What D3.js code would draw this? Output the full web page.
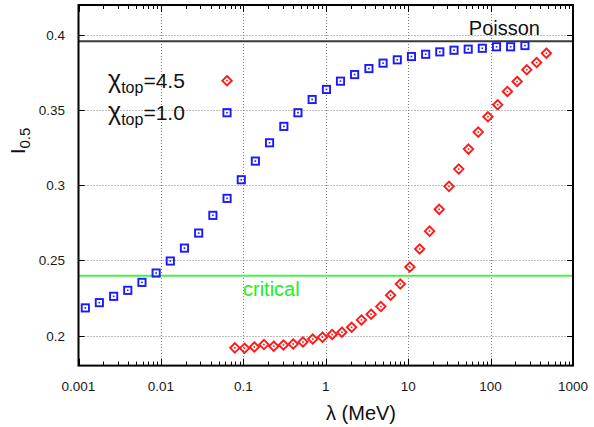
<!DOCTYPE html>
<html>
<head>
<meta charset="utf-8">
<script src="https://cdn.jsdelivr.net/npm/d3@7"></script>
<style>
  body { margin: 0; background: #fff; }
  svg { font-family: "Liberation Sans", Arial, sans-serif; }
</style>
</head>
<body>
<div id="chart"></div>
<script>
var svgWidth = 594, svgHeight = 427;

// chi_top = 1.0 (blue squares)
var lambdaBlue = [0.00121, 0.00179, 0.00267, 0.00396, 0.00589, 0.00875, 0.0130, 0.0193, 0.0287, 0.0427,
                  0.0635, 0.0944, 0.140, 0.208, 0.310, 0.460, 0.684, 1.02, 1.51, 2.24,
                  3.34, 4.96, 7.38, 10.96, 16.3, 24.2, 36.0, 53.5, 79.4, 118, 175, 261];
var iBlue = [0.2184, 0.2219, 0.2261, 0.2301, 0.2354, 0.2416, 0.2496, 0.2582, 0.2682, 0.2800,
             0.2913, 0.3037, 0.3161, 0.3283, 0.3392, 0.3483, 0.3571, 0.3638, 0.3693, 0.3737,
             0.3777, 0.3813, 0.3835, 0.3857, 0.3872, 0.3888, 0.3899, 0.3906, 0.3912, 0.3922, 0.3922, 0.3930];

// chi_top = 4.5 (red diamonds)
var lambdaRed = [0.0789, 0.1035, 0.136, 0.178, 0.234, 0.307, 0.403, 0.529, 0.695, 0.912,
                 1.197, 1.571, 2.06, 2.71, 3.55, 4.66, 6.12, 8.03, 10.5, 13.8,
                 18.2, 23.8, 31.3, 41.1, 53.9, 70.8, 92.9, 122, 160, 210, 275, 362, 475];
var iRed = [0.1918, 0.1916, 0.1924, 0.1940, 0.1929, 0.1937, 0.1944, 0.1957, 0.1977, 0.1989,
            0.2007, 0.2022, 0.2055, 0.2104, 0.2142, 0.2193, 0.2268, 0.2343, 0.2456, 0.2576,
            0.2695, 0.2840, 0.2993, 0.3108, 0.3241, 0.3354, 0.3456, 0.3536, 0.3624, 0.3691,
            0.3769, 0.3817, 0.3879];

var xTicks = [0.001, 0.01, 0.1, 1, 10, 100, 1000];
var xTickLabels = ["0.001", "0.01", "0.1", "1", "10", "100", "1000"];
var yTicks = [0.2, 0.25, 0.3, 0.35, 0.4];
var yTickLabels = ["0.2", "0.25", "0.3", "0.35", "0.4"];

var poissonLevel = 0.3958;
var criticalLevel = 0.2398;

var legendLabels = ["4.5", "1.0"];

var pLeft = 78.5, pRight = 573, pTop = 5, pBottom = 365.6;

var x = d3.scaleLog().domain([0.001, 1000]).range([pLeft, pRight]);
var y = d3.scaleLinear().domain([0.18, 0.42]).range([pBottom, pTop]);

var svg = d3.select("#chart").append("svg")
  .attr("width", svgWidth)
  .attr("height", svgHeight);

function px(v) { return Math.round(v) + 0.5; }

// grid (dotted)
var grid = svg.append("g").attr("stroke", "#7a7a7a").attr("stroke-width", 1).attr("stroke-dasharray", "1,2");
grid.selectAll("line.gx").data(xTicks.slice(1, -1)).enter().append("line")
  .attr("x1", d => px(x(d))).attr("x2", d => px(x(d)))
  .attr("y1", pTop).attr("y2", pBottom);
grid.selectAll("line.gy").data(yTicks).enter().append("line")
  .attr("x1", pLeft).attr("x2", pRight)
  .attr("y1", d => px(y(d))).attr("y2", d => px(y(d)));

// minor ticks on log axis (top and bottom)
var minor = [];
for (var e = -3; e < 3; e++) {
  for (var m = 2; m <= 9; m++) minor.push(m * Math.pow(10, e));
}
var ticks = svg.append("g").attr("stroke", "#000").attr("stroke-width", 1);
ticks.selectAll("line.mb").data(minor).enter().append("line")
  .attr("x1", d => px(x(d))).attr("x2", d => px(x(d)))
  .attr("y1", pBottom).attr("y2", pBottom - 4);
ticks.selectAll("line.mt").data(minor).enter().append("line")
  .attr("x1", d => px(x(d))).attr("x2", d => px(x(d)))
  .attr("y1", pTop).attr("y2", pTop + 4);
ticks.selectAll("line.Mb").data(xTicks).enter().append("line")
  .attr("x1", d => px(x(d))).attr("x2", d => px(x(d)))
  .attr("y1", pBottom).attr("y2", pBottom - 7);
ticks.selectAll("line.Mt").data(xTicks).enter().append("line")
  .attr("x1", d => px(x(d))).attr("x2", d => px(x(d)))
  .attr("y1", pTop).attr("y2", pTop + 7);
ticks.selectAll("line.yl").data(yTicks).enter().append("line")
  .attr("x1", pLeft).attr("x2", pLeft + 6)
  .attr("y1", d => px(y(d))).attr("y2", d => px(y(d)));
ticks.selectAll("line.yr").data(yTicks).enter().append("line")
  .attr("x1", pRight).attr("x2", pRight - 6)
  .attr("y1", d => px(y(d))).attr("y2", d => px(y(d)));

// reference lines
svg.append("line")
  .attr("x1", pLeft).attr("x2", pRight)
  .attr("y1", y(poissonLevel)).attr("y2", y(poissonLevel))
  .attr("stroke", "#3a3a3a").attr("stroke-width", 2);
svg.append("line")
  .attr("x1", pLeft).attr("x2", pRight)
  .attr("y1", y(criticalLevel)).attr("y2", y(criticalLevel))
  .attr("stroke", "#4cef4c").attr("stroke-width", 2);

// frame
svg.append("rect")
  .attr("x", pLeft).attr("y", pTop)
  .attr("width", pRight - pLeft).attr("height", pBottom - pTop)
  .attr("fill", "none").attr("stroke", "#000").attr("stroke-width", 2);

// markers
function square(g, cx, cy) {
  g.append("rect").attr("x", cx - 3.6).attr("y", cy - 3.6).attr("width", 7.2).attr("height", 7.2)
    .attr("fill", "none").attr("stroke", "#1a1aff").attr("stroke-width", 1.9);
  g.append("rect").attr("x", cx - 0.8).attr("y", cy - 0.8).attr("width", 1.6).attr("height", 1.6)
    .attr("fill", "#1a1aff");
}
function diamond(g, cx, cy) {
  var r = 4.7;
  g.append("path").attr("d", "M" + cx + "," + (cy - r) + "L" + (cx + r) + "," + cy + "L" + cx + "," + (cy + r) + "L" + (cx - r) + "," + cy + "Z")
    .attr("fill", "none").attr("stroke", "#ff1a1a").attr("stroke-width", 1.9);
  g.append("rect").attr("x", cx - 0.8).attr("y", cy - 0.8).attr("width", 1.6).attr("height", 1.6)
    .attr("fill", "#ff1a1a");
}

var blueG = svg.append("g");
lambdaBlue.forEach(function(l, i) { square(blueG, x(l), y(iBlue[i])); });
var redG = svg.append("g");
lambdaRed.forEach(function(l, i) { diamond(redG, x(l), y(iRed[i])); });

// tick labels
svg.append("g").selectAll("text").data(xTicks).enter().append("text")
  .attr("x", d => x(d)).attr("y", 391)
  .attr("text-anchor", "middle").attr("font-size", 13.5).attr("fill", "#1a1a1a")
  .text((d, i) => xTickLabels[i]);
svg.append("g").selectAll("text").data(yTicks).enter().append("text")
  .attr("x", 65).attr("y", d => y(d) + 5)
  .attr("text-anchor", "end").attr("font-size", 13.5).attr("fill", "#1a1a1a")
  .text((d, i) => yTickLabels[i]);

// axis titles
svg.append("text").attr("x", 361).attr("y", 420)
  .attr("text-anchor", "middle").attr("font-size", 20).attr("fill", "#111")
  .text("λ (MeV)");

var yl = svg.append("text")
  .attr("transform", "translate(25,141) rotate(-90)")
  .attr("text-anchor", "middle").attr("font-size", 21).attr("fill", "#111");
yl.append("tspan").text("I");
yl.append("tspan").attr("dy", 5).attr("font-size", 15).text("0.5");

// legend
legendLabels.forEach(function(lab, i) {
  var t = svg.append("text").attr("x", 108).attr("y", 88 + i * 32)
    .attr("font-size", 21).attr("fill", "#111");
  t.append("tspan").attr("font-size", 25).text("χ");
  t.append("tspan").attr("dy", 5).attr("font-size", 16).text("top");
  t.append("tspan").attr("dy", -5).text("=" + lab);
});
diamond(svg.append("g"), 227, 80.7);
square(svg.append("g"), 227, 112.7);

// annotations
svg.append("text").attr("x", 540).attr("y", 34.5)
  .attr("text-anchor", "end").attr("font-size", 20).attr("fill", "#111")
  .text("Poisson");
svg.append("text").attr("x", 243).attr("y", 296)
  .attr("font-size", 20).attr("fill", "#22ee22")
  .text("critical");
</script>
</body>
</html>
